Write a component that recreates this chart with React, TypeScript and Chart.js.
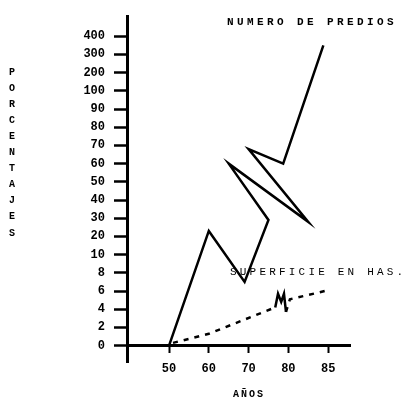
import React, { useEffect, useRef } from "react";
import { Chart, registerables } from "chart.js";

Chart.register(...registerables);

// Tick labels (the original axes are non-uniform: each label is one equal step)
const yTickValues = [0, 2, 4, 6, 8, 10, 20, 30, 40, 50, 60, 70, 80, 90, 100, 200, 300, 400];
const xTickValues = [40, 50, 60, 70, 80, 85];
const xTickLabels = ["", "50", "60", "70", "80", "85"];

// Series: "NUMERO DE PREDIOS" (solid, drawn in the original order)
const prediosYears = [50, 60, 69, 75, 65, 82.5, 70, 78.7, 84.4];
const prediosValues = [0, 23, 7, 29, 60, 28, 68, 60, 350];

// Series: "SUPERFICIE EN HAS." (dashed, with the hand-drawn "M" squiggle)
const superficieYears = [51, 60, 76.7, 77.4, 78.2, 78.9, 79.4, 80.2, 84.6];
const superficieValues = [0.3, 1.3, 4.2, 5.7, 4.8, 5.7, 3.7, 5.1, 6];

const toIndex = (v: number, ticks: number[]) => {
  for (let i = 0; i < ticks.length - 1; i++) {
    if (v <= ticks[i + 1]) return i + (v - ticks[i]) / (ticks[i + 1] - ticks[i]);
  }
  const n = ticks.length - 1;
  return n + (v - ticks[n]) / (ticks[n] - ticks[n - 1]);
};

const makePoints = (xs: number[], ys: number[]) =>
  xs.map((x, i) => ({ x: toIndex(x, xTickValues), y: toIndex(ys[i], yTickValues) }));

const tickFont = { family: "'Liberation Mono', monospace", size: 12, weight: "bold" as const };

const textPlugin = {
  id: "annotText",
  afterDraw(chart: any) {
    const ctx = chart.ctx as CanvasRenderingContext2D;
    ctx.save();
    ctx.fillStyle = "#000";
    ctx.textBaseline = "middle";
    // Series labels
    ctx.textAlign = "left";
    (ctx as any).letterSpacing = "3.4px";
    ctx.font = "bold 11px 'Liberation Mono', monospace";
    ctx.fillText("NUMERO DE PREDIOS", 227, 22);
    (ctx as any).letterSpacing = "3.2px";
    ctx.font = "11px 'Liberation Mono', monospace";
    ctx.fillText("SUPERFICIE EN HAS.", 230, 272);
    // X axis title
    (ctx as any).letterSpacing = "2px";
    ctx.font = "bold 10px 'Liberation Mono', monospace";
    ctx.textAlign = "center";
    ctx.fillText("AÑOS", 249, 394);
    // Y axis title, stacked letters
    (ctx as any).letterSpacing = "0px";
    ctx.font = "bold 10px 'Liberation Mono', monospace";
    "PORCENTAJES".split("").forEach((ch, i) => {
      ctx.fillText(ch, 12, 72 + i * 16.1);
    });
    ctx.restore();
  },
};

export default function App() {
  const ref = useRef<HTMLCanvasElement | null>(null);

  useEffect(() => {
    if (!ref.current) return;
    const chart = new Chart(ref.current, {
      type: "scatter",
      data: {
        datasets: [
          {
            label: "NUMERO DE PREDIOS",
            data: makePoints(prediosYears, prediosValues),
            showLine: true,
            borderColor: "#000",
            backgroundColor: "#000",
            borderWidth: 2.5,
            pointRadius: 0,
            tension: 0,
          },
          {
            label: "SUPERFICIE EN HAS.",
            data: makePoints(superficieYears, superficieValues),
            showLine: true,
            borderColor: "#000",
            backgroundColor: "#000",
            borderWidth: 2.5,
            pointRadius: 0,
            tension: 0,
            segment: {
              borderDash: (c: any) => (c.p0DataIndex >= 2 && c.p0DataIndex <= 5 ? [] : [5, 6]),
            },
          } as any,
        ],
      },
      options: {
        animation: false,
        responsive: true,
        maintainAspectRatio: false,
        layout: { padding: { top: 10, right: 60, bottom: 40, left: 0 } },
        plugins: { legend: { display: false }, tooltip: { enabled: false }, title: { display: false } },
        scales: {
          x: {
            type: "linear",
            min: -0.057,
            max: 5.55,
            position: { y: 0 } as any,
            border: { color: "#000", width: 3 },
            grid: { drawOnChartArea: false, drawTicks: true, tickLength: 6, tickWidth: 2, color: "#000" },
            ticks: {
              color: "#000",
              font: tickFont,
              padding: 10,
              maxRotation: 0,
              callback: (v: any) => xTickLabels[Math.round(Number(v))] ?? "",
            },
            afterBuildTicks: (s: any) => {
              s.ticks = [1, 2, 3, 4, 5].map((v) => ({ value: v }));
            },
          },
          y: {
            type: "linear",
            min: -0.9,
            max: 18.1,
            border: { color: "#000", width: 3 },
            grid: { drawOnChartArea: false, drawTicks: true, tickLength: 13, tickWidth: 2.5, color: "#000" },
            ticks: {
              color: "#000",
              font: tickFont,
              padding: 9,
              callback: (v: any) => String(yTickValues[Math.round(Number(v))] ?? ""),
            },
            afterBuildTicks: (s: any) => {
              s.ticks = yTickValues.map((_, i) => ({ value: i }));
            },
            afterFit: (s: any) => {
              s.width = 127;
            },
          },
        },
      } as any,
      plugins: [textPlugin],
    });
    return () => chart.destroy();
  }, []);

  return (
    <div style={{ position: "absolute", left: 0, top: 0, width: 410, height: 402, background: "#fff" }}>
      <canvas ref={ref} />
    </div>
  );
}
